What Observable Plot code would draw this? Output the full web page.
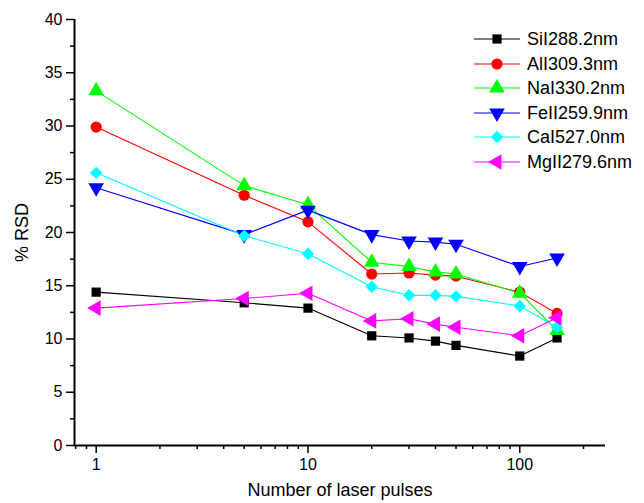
<!DOCTYPE html>
<html>
<head>
<meta charset="utf-8">
<script src="https://cdn.jsdelivr.net/npm/d3@7"></script>
<script src="https://cdn.jsdelivr.net/npm/@observablehq/plot@0.6"></script>
<style>
  html, body { margin: 0; padding: 0; background: white; }
  #wrap { position: relative; width: 644px; height: 503px; font-family: "Liberation Sans", Arial, Helvetica, sans-serif; }
  #legend { position: absolute; left: 474px; top: 27px; }
  .row { display: flex; align-items: center; height: 24.5px; }
  .row svg { flex: none; }
  .row span { font-size: 18px; margin-left: 7px; color: black; line-height: 24.5px; }
</style>
</head>
<body>
<div id="wrap"><div id="legend"></div></div>
<script>
// ---- data ----
const pulses = [1, 5, 10, 20, 30, 40, 50, 100, 150];
const seriesNames = ["SiI288.2nm", "AlI309.3nm", "NaI330.2nm", "FeII259.9nm", "CaI527.0nm", "MgII279.6nm"];
const si = [14.4, 13.4, 12.9, 10.3, 10.1, 9.8, 9.4, 8.4, 10.1];
const al = [29.9, 23.5, 21.0, 16.1, 16.2, 16.0, 15.9, 14.4, 12.4];
const na = [33.3, 24.4, 22.6, 17.2, 16.8, 16.3, 16.1, 14.3, 10.8];
const fe = [24.2, 19.8, 22.1, 19.8, 19.2, 19.1, 18.9, 16.8, 17.6];
const ca = [25.6, 19.7, 18.0, 14.9, 14.1, 14.1, 14.0, 13.1, 11.1];
const mg = [12.9, 13.8, 14.3, 11.7, 11.9, 11.4, 11.1, 10.3, 12.0];
const yTicks = [0, 5, 10, 15, 20, 25, 30, 35, 40];
const yMinorTicks = [2.5, 7.5, 12.5, 17.5, 22.5, 27.5, 32.5, 37.5];
const xTicks = [1, 10, 100];
const xMinorTicks = [0.8, 0.9, 2, 3, 4, 5, 6, 7, 8, 9, 20, 30, 40, 50, 60, 70, 80, 90, 200];
const xTitle = "Number of laser pulses";
const yTitle = "% RSD";

// ---- symbols ----
const sqrt3 = Math.sqrt(3);
const triDown = {draw(ctx, size) { const y = -Math.sqrt(size / (sqrt3 * 3)); ctx.moveTo(0, -2 * y); ctx.lineTo(-sqrt3 * y, y); ctx.lineTo(sqrt3 * y, y); ctx.closePath(); }};
const triLeft = {draw(ctx, size) { const y = -Math.sqrt(size / (sqrt3 * 3)); ctx.moveTo(2 * y, 0); ctx.lineTo(-y, -sqrt3 * y); ctx.lineTo(-y, sqrt3 * y); ctx.closePath(); }};

const values = [si, al, na, fe, ca, mg];
const colors = ["#000000", "#ff0000", "#00ff00", "#0000ff", "#00ffff", "#ff00ff"];
const symbols = [d3.symbolSquare, d3.symbolCircle, d3.symbolTriangle, triDown, d3.symbolDiamond2, triLeft];
const radii = [5.2, 5.6, 5.8, 5.8, 5.6, 5.8];

const series = seriesNames.map((name, i) => ({
  name, color: colors[i], symbol: symbols[i], r: radii[i],
  data: pulses.map((x, j) => ({x, y: values[i][j]}))
}));

const xDomain = [0.79, 254];

const marks = [];
for (const s of series) {
  marks.push(Plot.line(s.data, {x: "x", y: "y", stroke: s.color, strokeWidth: 1.1}));
}
for (const s of series) {
  marks.push(Plot.dot(s.data, {x: "x", y: "y", fill: s.color, stroke: "none", symbol: s.symbol, r: s.r}));
}

const chart = Plot.plot({
  width: 644,
  height: 503,
  marginLeft: 74,
  marginRight: 39,
  marginTop: 19,
  marginBottom: 58,
  style: {fontFamily: "'Liberation Sans', Arial, Helvetica, sans-serif", fontSize: "16px", color: "black", background: "white", overflow: "visible"},
  x: {type: "log", domain: xDomain},
  y: {domain: [0, 40]},
  marks: [
    Plot.axisY({ticks: yMinorTicks, tickSize: 4, tickFormat: () => "", strokeWidth: 1.5, label: null}),
    Plot.axisY({ticks: yTicks, tickSize: 8, tickPadding: 4, strokeWidth: 1.5, fontSize: 16, label: yTitle, labelAnchor: "center", labelOffset: 59, labelArrow: "none"}),
    Plot.axisX({ticks: xMinorTicks, tickSize: 4, tickFormat: () => "", strokeWidth: 1.5, label: null}),
    Plot.axisX({ticks: xTicks, tickSize: 8, tickPadding: 5, strokeWidth: 1.5, fontSize: 16, tickFormat: d3.format("d"), label: xTitle, labelAnchor: "center", labelOffset: 50, labelArrow: "none"}),
    Plot.ruleY([0], {strokeWidth: 2}),
    Plot.ruleX([xDomain[0]], {strokeWidth: 2}),
    ...marks
  ]
});
const wrap = document.getElementById("wrap");
wrap.insertBefore(chart, wrap.firstChild);
chart.style.position = "absolute";
chart.style.left = "0px";
chart.style.top = "0px";
chart.querySelectorAll("text").forEach(el => {
  const t = el.textContent.trim();
  if (t === xTitle || t === yTitle) {
    el.setAttribute("font-size", "18");
    el.parentNode.setAttribute("font-size", "18");
  }
});

// ---- legend ----
const legend = d3.select("#legend");
for (const s of series) {
  const row = legend.append("div").attr("class", "row");
  const svg = row.append("svg").attr("width", 46).attr("height", 24);
  svg.append("line").attr("x1", 0).attr("x2", 46).attr("y1", 12).attr("y2", 12).attr("stroke", s.color).attr("stroke-width", 1.1);
  svg.append("path").attr("transform", "translate(23,12)")
    .attr("d", d3.symbol(s.symbol, Math.PI * s.r * s.r)())
    .attr("fill", s.color);
  row.append("span").text(s.name);
}
</script>
</body>
</html>
